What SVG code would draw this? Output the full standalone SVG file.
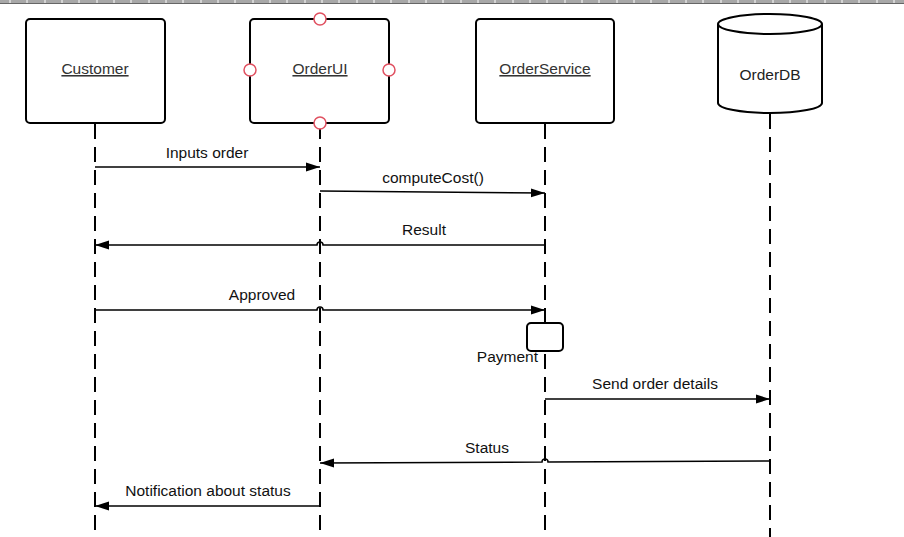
<svg xmlns="http://www.w3.org/2000/svg" width="904" height="537" viewBox="0 0 904 537">
<defs>
<style>
.box{fill:#fff;stroke:#000;stroke-width:2}
.life{stroke:#000;stroke-width:2;stroke-dasharray:15 8;fill:none}
.msg{stroke:#000;stroke-width:1.5;fill:none}
.lbl{font-family:"Liberation Sans",Arial,sans-serif;font-size:15.5px;fill:#111;text-anchor:middle}
.nlbl{font-family:"Liberation Sans",Arial,sans-serif;font-size:15.5px;fill:#333;text-anchor:middle;text-decoration:underline}
.pt{fill:#fff;stroke:#e05060;stroke-width:1.5}
</style>
<marker id="ah" viewBox="0 0 14 10" refX="14" refY="5" markerWidth="14" markerHeight="10" markerUnits="userSpaceOnUse" orient="auto">
<path d="M0,0.5 L14,5 L0,9.5 Z" fill="#000"/>
</marker>
</defs>
<rect width="904" height="537" fill="#fff"/>
<g id="ruler">
<rect x="0" y="0" width="904" height="4" fill="#a8a8a8"/>
<line x1="0" y1="3.5" x2="904" y2="3.5" stroke="#666" stroke-width="1"/>
<path d="M10,0v3M27,0v3M45,0v3M62,0v3M79,0v3M97,0v3M114,0v3M131,0v3M149,0v3M166,0v3M183,0v3M201,0v3M218,0v3M235,0v3M253,0v3M270,0v3M287,0v3M305,0v3M322,0v3M339,0v3M357,0v3M374,0v3M391,0v3M409,0v3M426,0v3M443,0v3M461,0v3M478,0v3M495,0v3M513,0v3M530,0v3M547,0v3M565,0v3M582,0v3M599,0v3M617,0v3M634,0v3M651,0v3M669,0v3M686,0v3M703,0v3M721,0v3M738,0v3M755,0v3M773,0v3M790,0v3M807,0v3M825,0v3M842,0v3M859,0v3M877,0v3M894,0v3" stroke="#fff" stroke-width="1"/>
</g>
<g id="lifelines">
<line class="life" x1="95" y1="124" x2="95" y2="537"/>
<line class="life" x1="320" y1="124" x2="320" y2="537"/>
<line class="life" x1="545" y1="124" x2="545" y2="537"/>
<line class="life" x1="770" y1="114" x2="770" y2="537"/>
</g>
<g id="customer">
<rect class="box" x="26" y="19" width="139" height="104" rx="4"/>
<text class="nlbl" x="95" y="74">Customer</text>
</g>
<g id="orderui">
<rect class="box" x="250" y="19" width="139" height="104" rx="4"/>
<text class="nlbl" x="320" y="74">OrderUI</text>
<circle class="pt" cx="320" cy="19" r="6"/>
<circle class="pt" cx="250" cy="70" r="6"/>
<circle class="pt" cx="389" cy="70" r="6"/>
<circle class="pt" cx="320" cy="123" r="6"/>
</g>
<g id="orderservice">
<rect class="box" x="476" y="19" width="138" height="104" rx="4"/>
<text class="nlbl" x="545" y="74">OrderService</text>
</g>
<g id="orderdb">
<path class="box" d="M718,24 L718,103 A52,10 0 0 0 822,103 L822,24 A52,10 0 0 0 718,24 A52,10 0 0 0 822,24"/>
<text class="lbl" x="770" y="80" style="fill:#222">OrderDB</text>
</g>
<g id="payment">
<rect class="box" x="527" y="323" width="36" height="28" rx="4"/>
<text class="lbl" x="538" y="362" style="text-anchor:end">Payment</text>
</g>
<g id="connectors">
<path class="msg" d="M95,167 L320,167" marker-end="url(#ah)"/>
<path class="msg" d="M320,191 L545,193" marker-end="url(#ah)"/>
<path class="msg" d="M545,245 L323,245 A3,3 0 0 0 317,245 L95,245" marker-end="url(#ah)"/>
<path class="msg" d="M95,310 L317,310 A3,3 0 0 1 323,310 L545,310" marker-end="url(#ah)"/>
<path class="msg" d="M545,399 L770,399" marker-end="url(#ah)"/>
<path class="msg" d="M770,461 L548,462 A3,3 0 0 0 542,462 L320,463" marker-end="url(#ah)"/>
<path class="msg" d="M320,506 L95,506" marker-end="url(#ah)"/>
</g>
<g id="labels">
<text class="lbl" x="207" y="158">Inputs order</text>
<text class="lbl" x="433" y="183">computeCost()</text>
<text class="lbl" x="424" y="235">Result</text>
<text class="lbl" x="262" y="300">Approved</text>
<text class="lbl" x="655" y="389">Send order details</text>
<text class="lbl" x="487" y="453">Status</text>
<text class="lbl" x="208" y="496">Notification about status</text>
</g>
</svg>
